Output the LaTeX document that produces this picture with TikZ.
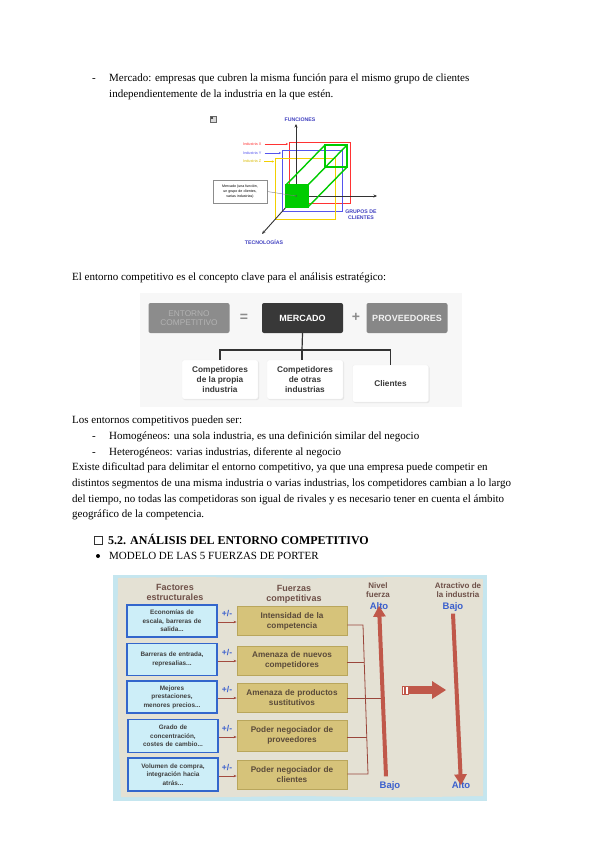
\documentclass[tikz,border=0pt]{standalone}
\usepackage{fontspec}
\setmainfont{Liberation Serif}
\newfontfamily\arialf{Liberation Sans}
\usetikzlibrary{arrows.meta,shadows}
\definecolor{cubered}{HTML}{FF3333}
\definecolor{cubeblue}{HTML}{5555EE}
\definecolor{cubeyellow}{HTML}{F2D000}
\definecolor{cubegreen}{HTML}{00CC00}
\definecolor{labblue}{HTML}{4040C0}
\definecolor{pouter}{HTML}{C5E6EF}
\definecolor{pinner}{HTML}{E4E1D4}
\definecolor{lbfill}{HTML}{CDEEF8}
\definecolor{lbdraw}{HTML}{3366CC}
\definecolor{ybfill}{HTML}{D6C37A}
\definecolor{ybdraw}{HTML}{B9A65C}
\definecolor{ybtext}{HTML}{5A4A3A}
\definecolor{hdtext}{HTML}{6E5048}
\definecolor{arrred}{HTML}{C0584A}
\definecolor{pmblue}{HTML}{3A5FCD}
\begin{document}
\begin{tikzpicture}[x=1pt,y=-1pt,
  body/.style={anchor=base west, inner sep=0pt, font=\fontsize{11}{12}\selectfont},
  axisline/.style={draw=black!80, line width=0.9pt, -{Stealth[length=3.5pt,width=3pt]}},
  gline/.style={draw=cubegreen, line width=1.4pt},
  axlab/.style={font=\arialf\bfseries\fontsize{5.2}{5.6}\selectfont, text=labblue, align=center, inner sep=0pt},
  ilab/.style={font=\arialf\fontsize{3.8}{4.2}\selectfont, anchor=west, inner sep=0pt},
  topbox/.style={rounded corners=2pt, minimum width=81pt, minimum height=30pt, align=center, inner sep=1pt},
  botbox/.style={rounded corners=2pt, fill=white, draw=black!6, drop shadow={shadow xshift=1pt, shadow yshift=-1pt, opacity=0.15},
     minimum width=76pt, minimum height=39pt, align=center, text=black!78,
     font=\arialf\bfseries\fontsize{8.3}{10}\selectfont, inner sep=1pt},
  treeline/.style={draw=black!80, line width=1.2pt},
  lbox/.style={draw=lbdraw, line width=1.2pt, fill=lbfill, minimum width=90pt, minimum height=32pt,
     text width=86pt, align=center, text=black!75, font=\arialf\bfseries\fontsize{6.4}{8.4}\selectfont, inner sep=1pt},
  ybox/.style={draw=ybdraw, line width=0.8pt, fill=ybfill, minimum width=110pt, minimum height=29pt,
     text width=108pt, align=center, text=ybtext, font=\arialf\bfseries\fontsize{8.2}{10}\selectfont, inner sep=1pt},
  pm/.style={font=\arialf\bfseries\fontsize{8.5}{9}\selectfont, text=pmblue, inner sep=0pt},
  smallarr/.style={draw=arrred!85!black, line width=0.7pt, -{Stealth[length=3pt,width=2.5pt]}},
  coll/.style={draw=arrred!80!black, line width=0.8pt},
  hdr/.style={font=\arialf\bfseries\fontsize{9}{10}\selectfont, text=hdtext, align=center, inner sep=0pt},
  hdrs/.style={font=\arialf\bfseries\fontsize{8}{9}\selectfont, text=hdtext, align=center, inner sep=0pt},
  lvl/.style={font=\arialf\bfseries\fontsize{9.5}{10}\selectfont, text=pmblue, inner sep=0pt},
  bigarr/.style={draw=arrred, line width=4pt, -{Triangle[length=11pt,width=12pt]}}
]
\useasboundingbox (0,0) rectangle (600,848);
\fill[white] (0,0) rectangle (600,848);

% ---------- top text ----------
\node[body] (d1) at (92,82) {-};
\node[body] (t1) at (109,82) {Mercado: empresas que cubren la misma función para el mismo grupo de clientes};
\node[body] (t2) at (109,98) {independientemente de la industria en la que estén.};

% ---------- cube diagram ----------
\draw[black!60, fill=black!15] (210,116) rectangle (216,122);
\fill[black!70] (211,117) rectangle (213,119);
\draw[cubered, line width=0.9pt] (289,142) rectangle (350,203);
\draw[cubeblue, line width=0.9pt] (282,150) rectangle (342,211);
\draw[cubeyellow, line width=0.9pt] (275,158) rectangle (335,219);
\draw[cubegreen!40, line width=0.5pt, dotted] (286,207) -- (325,167);
\coordinate (O) at (296,196);
\coordinate (fu) at (296,124);
\coordinate (gr) at (377,196);
\coordinate (te) at (262,234);
\draw[axisline] (O) -- (fu);
\draw[axisline] (O) -- (gr);
\draw[axisline] (O) -- (te);
\draw[gline] (286,185) -- (325,145);
\draw[gline] (308,185) -- (347,145);
\draw[gline] (308,207) -- (347,167);
\draw[gline] (325,145) rectangle (347,167);
\filldraw[gline, fill=cubegreen] (286,185) rectangle (308,207);
\fill[black!70] (O) circle (0.8pt);
\node[axlab] (fun) at (300,120) {FUNCIONES};
\node[axlab] (gru) at (361,215) {GRUPOS DE\\CLIENTES};
\node[axlab] (tec) at (264,242) {TECNOLOGÍAS};
\coordinate (rx) at (288,144);
\coordinate (ry) at (281,153);
\coordinate (rz) at (274,161.5);
\node[ilab, text=cubered] (ix) at (243,144) {Industria X};
\node[ilab, text=cubeblue] (iy) at (243,153) {Industria Y};
\node[ilab, text=cubeyellow!90!black] (iz) at (243,161.5) {Industria Z};
\draw[cubered, line width=0.6pt, -{Stealth[length=2pt,width=2pt]}] (ix.east) ++(3,0) -- (rx);
\draw[cubeblue, line width=0.6pt, -{Stealth[length=2pt,width=2pt]}] (iy.east) ++(3,0) -- (ry);
\draw[cubeyellow, line width=0.6pt, -{Stealth[length=2pt,width=2pt]}] (iz.east) ++(3,0) -- (rz);
\node[draw=black!45, fill=white, minimum width=54pt, minimum height=23pt, align=center, inner sep=0pt,
      font=\arialf\fontsize{3.6}{4.6}\selectfont] (mk) at (240,191.5) {Mercado (una función,\\un grupo de clientes,\\varias industrias)};
\draw[black!50, line width=0.4pt] (mk.east) -- (O);

% ---------- text ----------
\node[body] (t3) at (72,280) {El entorno competitivo es el concepto clave para el análisis estratégico:};

% ---------- diagram 2 ----------
\fill[black!3] (140,293) rectangle (462,407);
\node[topbox, fill=black!45, text=black!30, font=\arialf\fontsize{8.3}{9.5}\selectfont] (ent) at (189,318) {ENTORNO\\COMPETITIVO};
\node[font=\arialf\bfseries\fontsize{14}{14}\selectfont, text=black!45, inner sep=0pt] (eq) at (244,318) {=};
\node[topbox, fill=black!78, text=white, font=\arialf\bfseries\fontsize{9}{10}\selectfont] (mer) at (302.5,318) {MERCADO};
\node[font=\arialf\bfseries\fontsize{14}{14}\selectfont, text=black!45, inner sep=0pt] (plus) at (356,317) {+};
\node[topbox, fill=black!47, text=black!5, font=\arialf\bfseries\fontsize{9}{10}\selectfont] (pro) at (407,318) {PROVEEDORES};
\node[botbox] (c1) at (220,379.5) {Competidores\\de la propia\\industria};
\node[botbox] (c2) at (305,379.5) {Competidores\\de otras\\industrias};
\node[botbox, minimum height=37pt] (c3) at (390.5,383.5) {Clientes};
\coordinate (j) at (302,350);
\draw[treeline] (mer.south) -- (j);
\draw[treeline] (c1.north) -- (c1.north |- j) -- (c3.north |- j) -- (c3.north);
\draw[treeline] (j) -- (j |- c2.north);

% ---------- text ----------
\node[body] (t4) at (72,423.5) {Los entornos competitivos pueden ser:};
\node[body] (d2) at (92,439) {-};
\node[body] (t5) at (109,439) {Homogéneos: una sola industria, es una definición similar del negocio};
\node[body] (d3) at (92,455) {-};
\node[body] (t6) at (109,455) {Heterogéneos: varias industrias, diferente al negocio};
\node[body] (t7) at (72,470.5) {Existe dificultad para delimitar el entorno competitivo, ya que una empresa puede competir en};
\node[body] (t8) at (72,486) {distintos segmentos de una misma industria o varias industrias, los competidores cambian a lo largo};
\node[body] (t9) at (72,502) {del tiempo, no todas las competidoras son igual de rivales y es necesario tener en cuenta el ámbito};
\node[body] (t10) at (72,517.5) {geográfico de la competencia.};

\draw[black!80, line width=0.6pt] (94,536) rectangle (102,544);
\node[body, font=\bfseries\fontsize{12}{13}\selectfont] (h1) at (108,544) {5.2. ANÁLISIS DEL ENTORNO COMPETITIVO};
\fill[black] (98,556) circle (2pt);
\node[body] (h2) at (109,559.5) {MODELO DE LAS 5 FUERZAS DE PORTER};

% ---------- Porter diagram ----------
\fill[pouter] (113,575) rectangle (487,801);
\fill[pinner] (118,578) -- (200,577) -- (300,578.5) -- (400,577) -- (483,579) -- (482,650) -- (484,720) -- (483,796)
   -- (400,797.5) -- (300,796) -- (200,797.5) -- (121,797) -- (118,720) -- (117,650) -- cycle;
\node[hdr] (hf) at (175,592) {Factores\\estructurales};
\node[hdr] (hc) at (294,594) {Fuerzas\\competitivas};
\node[hdrs] (hn) at (378,590.5) {Nivel\\fuerza};
\node[hdrs] (ha) at (458,590.5) {Atractivo de\\la industria};

\node[lbox] (l1) at (172,621) {Economías de\\escala, barreras de\\salida...};
\node[lbox] (l2) at (172,659.5) {Barreras de entrada,\\represalias...};
\node[lbox] (l3) at (172,697) {Mejores\\prestaciones,\\menores precios...};
\node[lbox, minimum height=33pt] (l4) at (173,736) {Grado de\\concentración,\\costes de cambio...};
\node[lbox, minimum height=33pt] (l5) at (173,774.5) {Volumen de compra,\\integración hacia\\atrás...};

\node[ybox] (y1) at (292,621) {Intensidad de la\\competencia};
\node[ybox] (y2) at (292,660.5) {Amenaza de nuevos\\competidores};
\node[ybox] (y3) at (292,697.5) {Amenaza de productos\\sustitutivos};
\node[ybox, minimum height=31pt] (y4) at (292,735.5) {Poder negociador de\\proveedores};
\node[ybox] (y5) at (292,775) {Poder negociador de\\clientes};

\foreach \i/\yy in {1/621,2/660,3/697,4/736,5/775}{
  \node[pm] (pm\i) at (227,\yy-8) {+/-};
  \draw[smallarr] (l\i.east |- 0,\yy+1) -- (y\i.west |- 0,\yy+1);
}

\coordinate (ct) at (363,625);
\coordinate (cb) at (368,774);
\coordinate (cm) at (366,698);
\coordinate (ah) at (382,698);
\draw[coll] (y1.east |- ct) -- (ct) -- (cb) -- (y5.east |- cb);
\draw[coll] (y2.east |- 0,662) -- (364.4,662);
\draw[coll] (y4.east |- 0,737) -- (367,737);
\draw[coll] (y3.east |- cm) -- (ah);

\node[lvl] (alto1) at (379,606) {Alto};
\node[lvl] (bajo1) at (390,786) {Bajo};
\node[lvl] (bajo2) at (453,607) {Bajo};
\node[lvl] (alto2) at (461,785) {Alto};
\draw[bigarr] (bajo1.north) ++(-4,-5) -- ([yshift=4pt]alto1.south);
\draw[bigarr] (bajo2.south) ++(0,2) -- ([yshift=-4pt]alto2.north);

% middle arrow
\fill[arrred] (409,686) rectangle (433,694);
\fill[arrred] (432,681) -- (446,690) -- (432,699) -- cycle;
\filldraw[draw=arrred, fill=white, line width=0.4pt] (402,686) rectangle (404.2,694);
\filldraw[draw=arrred, fill=white, line width=0.4pt] (405.5,686) rectangle (407.7,694);
\end{tikzpicture}
\end{document}
